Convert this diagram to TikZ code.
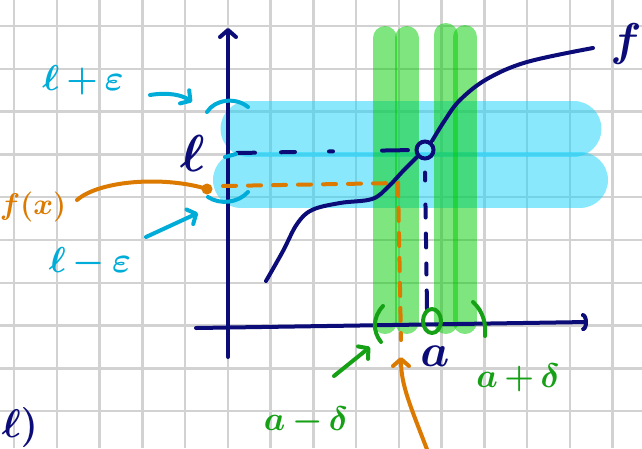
\documentclass[tikz,border=0pt]{standalone}
\usepackage{fix-cm}
\usepackage{tikz}
\usetikzlibrary{arrows.meta, positioning, calc}
\definecolor{inknavy}{RGB}{12,12,120}
\definecolor{inkorange}{RGB}{220,122,0}
\definecolor{inkcyan}{RGB}{0,172,216}
\definecolor{inkgreen}{RGB}{22,160,22}
\definecolor{bandblue}{RGB}{23,211,251}
\definecolor{bandgreen}{RGB}{0,205,0}
\definecolor{gridgray}{RGB}{210,210,210}
\tikzstyle{pen} = [line width=4pt, line cap=round, line join=round]

\begin{document}
\begin{tikzpicture}[
    x=1pt, y=-1pt,
    gridline/.style = {draw=gridgray, line width=2.5pt},
    bluebar/.style  = {line width=56pt, line cap=round, draw=bandblue, draw opacity=0.5},
    greenbar/.style = {line width=24pt, line cap=round, draw=bandgreen, draw opacity=0.5},
    navyline/.style = {pen, draw=inknavy},
    cyanline/.style = {pen, draw=inkcyan},
    orangeline/.style = {pen, draw=inkorange},
    greenline/.style  = {pen, draw=inkgreen},
    barb/.style     = {-{Straight Barb[length=7pt, width=16pt, round]}},
    hand/.style     = {inner sep=0pt, font=\fontsize{36}{36}\selectfont\boldmath},
]
\useasboundingbox (0,0) rectangle (642,448);
\fill[white] (0,0) rectangle (642,448);

% ---- squared paper ----
\foreach \gx in {0,...,14}
  \draw[gridline] ({14+42.75*\gx},0) -- ({14+42.75*\gx},448);
\foreach \gy in {0,...,9}
  \draw[gridline] (0,{26+42.8*\gy}) -- (642,{26+42.8*\gy});

% ---- epsilon bands (blue) ----
\draw[bluebar] (248.5,128.5) -- (573.5,128.5);
\draw[bluebar] (241,180) -- (580,180);

% ---- delta bands (green) ----
\foreach \bx/\btop in {385/38, 406.5/38, 445.5/35, 465/37}
  \draw[greenbar] (\bx,\btop) -- (\bx,322);

% ---- axes ----
\coordinate (yfoot) at (228,357);
\coordinate (ytop)  at (228,28);
\coordinate (xfoot) at (196,328);
\coordinate (xtip)  at (588,322);
\draw[navyline, barb] (yfoot) -- (ytop);
\draw[navyline, -{Arc Barb[length=5pt, width=18pt, round]}] (xfoot) -- (xtip);

% ---- graph of f with the hole at a ----
\node[circle, draw=inknavy, line width=4pt, minimum size=17pt, inner sep=0pt] (hole) at (425,150) {};
\draw[navyline] plot[smooth, tension=0.6] coordinates
  {(266,281) (283,251) (297,224) (312,210) (340,203) (372,199) (388,187) (403,171) (417,157)};
\draw[navyline] plot[smooth, tension=0.6] coordinates
  {(432,141) (445,120) (460,100) (487,79) (527,62) (593,48)};
\node[hand, text=inknavy, font=\fontsize{46}{46}\selectfont\boldmath] (flab) at (626,44) {$f$};

% ---- limit l and the point a ----
\coordinate (lhit)  at (237,153);
\coordinate (axhit) at (427,309);
\draw[navyline, dash pattern=on 18pt off 26pt on 14pt off 34pt on 4pt off 49pt on 26pt off 40pt]
  (lhit) -- (hole.west);
\draw[navyline, dash pattern=on 8pt off 24pt on 13pt off 16pt on 14pt off 16pt on 11pt off 16pt on 21pt off 30pt]
  ($(hole.south)+(0,12)$) -- (axhit);
\node[hand, text=inknavy, font=\fontsize{52}{52}\selectfont\boldmath] (ell) [left=32pt of lhit] {$\ell$};
\node[hand, text=inknavy, font=\fontsize{46}{46}\selectfont\boldmath] (alab) at (435,356) {$a$};

% ---- f(x) for some x near a (orange) ----
\coordinate (fxdot)  at (207,189);
\coordinate (fxcorner) at (398,183);
\coordinate (fxfoot) at (401,340);
\draw[orangeline, dash pattern=on 13pt off 12pt] ($(fxdot)+(16,-3)$) -- (fxcorner) -- (fxfoot);
\node[hand, text=inkorange, font=\fontsize{30}{30}\selectfont\boldmath] (fxlab) at (33,207) {$f(x)$};
\coordinate (fxtail) at (77,200);
\draw[orangeline] (fxtail) .. controls (100,180) and (165,176) .. (fxdot);
\fill[inkorange] (fxdot) circle (5.5);
\coordinate (xtail) at (428,452);
\coordinate (xhead) at (401,357);
\draw[orangeline, barb] (xtail) .. controls (410,405) and (401,385) .. (xhead);

% ---- l + eps and l - eps (cyan) ----
\draw[cyanline] (207,112) .. controls (215,99) and (236,97) .. (248,107);
\draw[cyanline] (208,197) .. controls (220,205) and (238,203) .. (248,192);
\draw[cyanline] (225,157) -- (236,154);
\node[hand, text=inkcyan] (uplab)  at (83,80)  {$\ell\,{+}\,\varepsilon$};
\node[hand, text=inkcyan] (lowlab) at (90,262) {$\ell\,{-}\,\varepsilon$};
\coordinate (uptail) at (150,95);
\coordinate (uphead) at (192,102);
\coordinate (lowtail) at (146,237);
\coordinate (lowhead) at (198,213);
\draw[cyanline, barb] (uptail) .. controls (168,92) and (182,95) .. (uphead);
\draw[cyanline, barb] (lowtail) -- (lowhead);

% ---- a - delta, a + delta (green) ----
\draw[greenline] (383,306) .. controls (372,318) and (373,332) .. (381,342);
\draw[greenline] (473,302) .. controls (484,312) and (486,325) .. (485,336);
\draw[greenline] (432,321) ellipse (9 and 12);
\node[hand, text=inkgreen, font=\fontsize{34}{34}\selectfont\boldmath] (aplus)  at (518,378) {$a\,{+}\,\delta$};
\node[hand, text=inkgreen, font=\fontsize{34}{34}\selectfont\boldmath] (aminus) at (306,421) {$a\,{-}\,\delta$};
\coordinate (dtail) at (334,376);
\coordinate (dhead) at (370,347);
\draw[greenline, barb] (dtail) -- (dhead);

% ---- item mark ----
\node[hand, text=inknavy, font=\fontsize{40}{40}\selectfont\boldmath] (item) at (20,427) {$\ell)$};

\end{tikzpicture}
\end{document}
